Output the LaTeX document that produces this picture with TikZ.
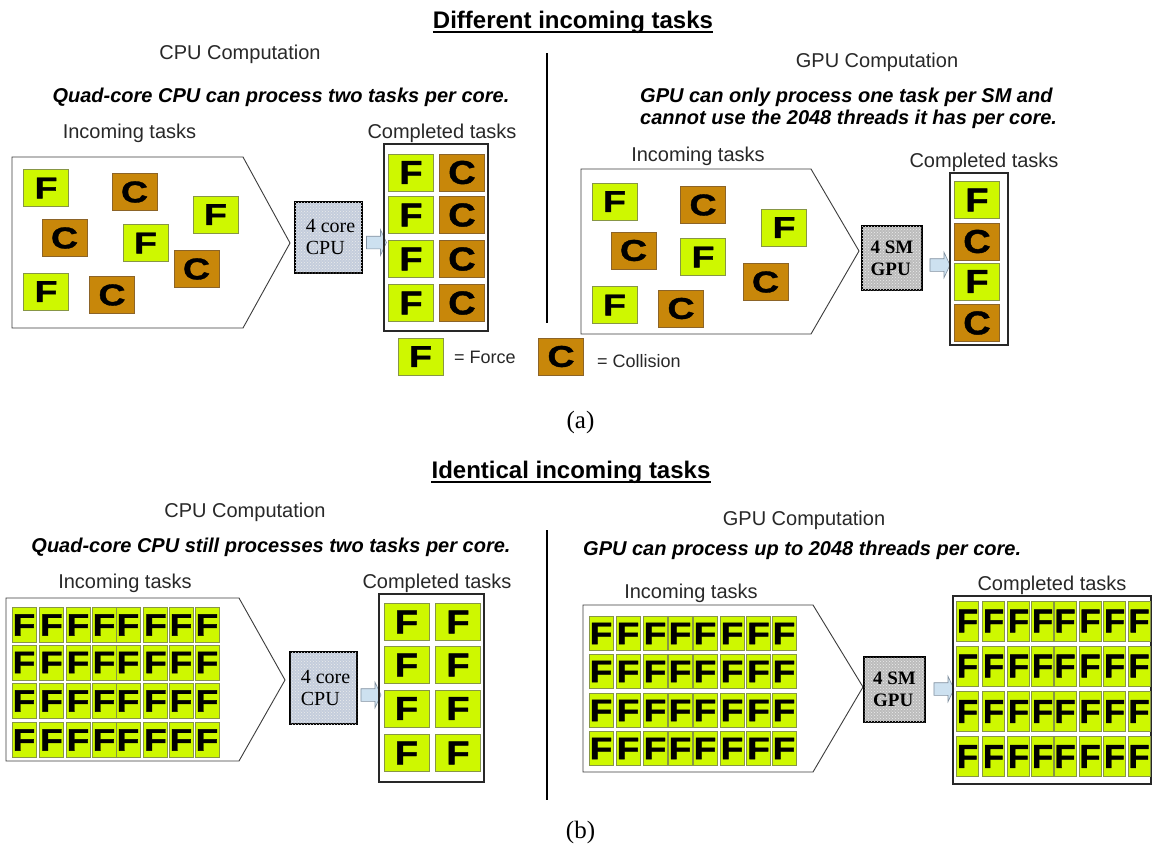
\documentclass[tikz,border=0pt]{standalone}
\usepackage{fontspec}
\setmainfont{Liberation Serif}
\setsansfont{Liberation Sans}
\newfontfamily\tilefont{Liberation Sans}[BoldFeatures={FakeBold=1.2}]
\usepackage{graphicx}
\usetikzlibrary{shapes.arrows,patterns}
\definecolor{fcol}{RGB}{206,248,0}
\definecolor{fbord}{RGB}{135,150,70}
\definecolor{ccol}{RGB}{200,135,10}
\definecolor{cbord}{RGB}{140,100,40}
\definecolor{cpufill}{RGB}{196,205,220}
\definecolor{gpufill}{RGB}{188,188,188}
\definecolor{arrowfill}{RGB}{205,225,240}
\definecolor{arrowdraw}{RGB}{130,145,160}
\definecolor{pentcol}{RGB}{60,60,60}
\definecolor{boxcol}{RGB}{40,40,40}
\definecolor{txt}{RGB}{40,40,40}
\newcommand{\tlF}[1][1.25]{\scalebox{#1}[1]{F}}
\newcommand{\tlC}[1][1.25]{\scalebox{#1}[1]{C}}
\begin{document}
\begin{tikzpicture}[x=1pt,y=-1pt,
  lab/.style={font=\sffamily\fontsize{20}{24}\selectfont, text=txt, inner sep=0pt, anchor=base},
  leg/.style={font=\sffamily\fontsize{18}{22}\selectfont, text=txt, inner sep=0pt, anchor=base west},
  bi/.style={font=\sffamily\bfseries\itshape\fontsize{20}{24}\selectfont, inner sep=0pt, anchor=base},
  ttl/.style={font=\sffamily\bfseries\fontsize{24}{28}\selectfont, inner sep=0pt, anchor=base},
  capt/.style={font=\fontsize{25}{28}\selectfont, inner sep=0pt, anchor=base},
  tile/.style={draw=fbord, fill=fcol, line width=0.7pt, inner sep=0pt, minimum width=45pt, minimum height=37pt, font=\tilefont\bfseries\fontsize{30}{30}\selectfont},
  ft/.style={tile},
  ct/.style={tile, fill=ccol, draw=cbord},
  dft/.style={tile, font=\tilefont\bfseries\fontsize{33}{33}\selectfont},
  dct/.style={ct, font=\tilefont\bfseries\fontsize{33}{33}\selectfont},
  gt/.style={tile, minimum width=24pt, minimum height=35pt, font=\tilefont\bfseries\fontsize{31}{31}\selectfont},
  proc/.style={draw=black, line width=2.5pt, inner sep=0pt, align=left, font=\fontsize{20}{22}\selectfont,
    postaction={pattern=crosshatch dots, pattern color=white!85!gray}},
  cpu/.style={proc, fill=cpufill, minimum width=67pt, minimum height=71pt},
  gpu/.style={proc, fill=gpufill, minimum width=60pt, minimum height=64pt, font=\bfseries\fontsize{19}{22}\selectfont},
  barrow/.style={single arrow, draw=arrowdraw, fill=arrowfill, line width=0.6pt, inner sep=0pt, minimum height=20pt, single arrow head extend=6.5pt, single arrow tip angle=130},
  pent/.style={draw=pentcol, line width=0.9pt},
  done/.style={draw=boxcol, line width=1.3pt, inner sep=0pt},
  divider/.style={line width=2pt, black}]
\useasboundingbox[fill=white] (0,0) rectangle (1153,852);

% ================= (a) =================
\node[ttl] (titleA) at (573,28) {Different incoming tasks};
\draw[line width=1.5pt] ([yshift=-4pt]titleA.base west) -- ([yshift=-4pt]titleA.base east);

\node[lab] (cpuA) at (240,59) {CPU Computation};
\node[bi] (cpuAd) at (281,102) {Quad-core CPU can process two tasks per core.};
\node[lab] (inA) at (129.5,138) {Incoming tasks};
\node[lab] (doneAl) at (442,138) {Completed tasks};

\draw[pent] (12,157) -- (243,157) -- (290,243) -- (243,328) -- (12,328) -- cycle;
\node[ft] (a1) at (46,188) {\tlF};
\node[ct] (a2) at (134.5,192) {\tlC};
\node[ft] (a3) at (215.5,214.5) {\tlF};
\node[ct] (a4) at (64.5,238) {\tlC};
\node[ft] (a5) at (145.5,243) {\tlF};
\node[ct] (a6) at (196.5,269) {\tlC};
\node[ft] (a7) at (46,291.5) {\tlF};
\node[ct] (a8) at (112,295) {\tlC};

\node[cpu] (cpuboxA) at (328.5,237.5) {\hspace*{4pt}4 core\\\hspace*{4pt}CPU};
\node[barrow] (arrA) at (375,242.5) {\rule{0pt}{12pt}};
\node[done, minimum width=104pt, minimum height=187pt] (doneA) at (436,237.5) {};
\foreach \y [count=\j] in {172.5,215,259,303}{
  \node[dft] (dA-f\j) at (411,\y) {\tlF[1.15]};
  \node[dct] (dA-c\j) at (462,\y) {\tlC[1.15]};
}

\draw[divider] (547,53) -- (547,323);

\node[lab] (gpuA) at (877,67) {GPU Computation};
\node[bi, anchor=base west] (gpuAd1) at (640,102) {GPU can only process one task per SM and};
\node[bi, anchor=base west] (gpuAd2) at (640,124) {cannot use the 2048 threads it has per core.};
\node[lab] (inB) at (698,161) {Incoming tasks};
\node[lab] (doneBl) at (984,167) {Completed tasks};

\draw[pent] (581,169) -- (811,169) -- (859,251) -- (811,334) -- (581,334) -- cycle;
\node[ft] (b1) at (614.5,201.5) {\tlF};
\node[ct] (b2) at (703,205) {\tlC};
\node[ft] (b3) at (784,227.5) {\tlF};
\node[ct] (b4) at (633.5,250.5) {\tlC};
\node[ft] (b5) at (703,257) {\tlF};
\node[ct] (b6) at (765.5,282) {\tlC};
\node[ft] (b7) at (614.5,305) {\tlF};
\node[ct] (b8) at (681,308.5) {\tlC};

\node[gpu] (gpuboxA) at (892,258) {4 SM\\GPU};
\node[barrow] (arrB) at (938.5,265) {\rule{0pt}{12pt}};
\node[done, minimum width=58pt, minimum height=172pt] (doneB) at (979,259) {};
\node[dft] (dB1) at (977,200) {\tlF[1.15]};
\node[dct] (dB2) at (977,241.5) {\tlC[1.15]};
\node[dft] (dB3) at (977,281.5) {\tlF[1.15]};
\node[dct] (dB4) at (977,323) {\tlC[1.15]};

% legend
\node[ft] (legF) at (420.5,356.5) {\tlF};
\node[leg] (legFt) at (454,363) {= Force};
\node[ct] (legC) at (561,356.5) {\tlC};
\node[leg] (legCt) at (597,367) {= Collision};

\node[capt] (capA) at (580.5,428) {(a)};

% ================= (b) =================
\node[ttl] (titleB) at (571,478) {Identical incoming tasks};
\draw[line width=1.5pt] ([yshift=-4pt]titleB.base west) -- ([yshift=-4pt]titleB.base east);

\node[lab] (cpuB) at (245,517) {CPU Computation};
\node[bi] (cpuBd) at (271,552) {Quad-core CPU still processes two tasks per core.};
\node[lab] (inC) at (125,588) {Incoming tasks};
\node[lab] (doneCl) at (437,588) {Completed tasks};

\draw[pent] (6,598) -- (239,598) -- (285,680) -- (239,761) -- (6,761) -- cycle;
\foreach \x [count=\i] in {24,51.5,78,104,128,155.5,181,207}{
  \foreach \y [count=\j] in {625,662.5,701,740}{
    \node[gt] (gC-\i-\j) at (\x,\y) {\tlF[1.2]};
  }
}
\node[cpu, minimum height=72pt] (cpuboxB) at (323.5,688) {\hspace*{4pt}4 core\\\hspace*{4pt}CPU};
\node[barrow] (arrC) at (369.5,695) {\rule{0pt}{12pt}};
\node[done, minimum width=105pt, minimum height=188pt] (doneC) at (431.5,688) {};
\foreach \y [count=\j] in {622,665,708.5,753}{
  \node[dft] (dC-a\j) at (406.5,\y) {\tlF[1.15]};
  \node[dft] (dC-b\j) at (458,\y) {\tlF[1.15]};
}

\draw[divider] (547,530) -- (547,800);

\node[lab] (gpuB) at (804,525) {GPU Computation};
\node[bi, anchor=base west] (gpuBd) at (583,555) {GPU can process up to 2048 threads per core.};
\node[lab] (inD) at (691,598) {Incoming tasks};
\node[lab] (doneDl) at (1052,590) {Completed tasks};

\draw[pent] (583,605) -- (813,605) -- (863,687) -- (813,772) -- (583,772) -- cycle;
\foreach \x [count=\i] in {601,628,655,680,705,732,758.5,784}{
  \foreach \y [count=\j] in {633.5,671.5,710.5,748.5}{
    \node[gt, minimum height=34pt] (gD-\i-\j) at (\x,\y) {\tlF[1.2]};
  }
}
\node[gpu, minimum width=61pt, minimum height=65pt] (gpuboxB) at (894.5,689.5) {4 SM\\GPU};
\node[barrow] (arrD) at (942.5,689) {\rule{0pt}{12pt}};
\node[done, minimum width=198pt, minimum height=188pt] (doneD) at (1052,690) {};
\foreach \x [count=\i] in {967.5,993.5,1018.5,1042.5,1065,1090,1114.5,1139}{
  \foreach \y [count=\j] in {621,666,711.5,756.5}{
    \node[gt, minimum width=22pt, minimum height=40pt, font=\tilefont\bfseries\fontsize{33}{33}\selectfont] (dD-\i-\j) at (\x,\y) {\tlF[1.05]};
  }
}

\node[capt] (capB) at (580.5,838) {(b)};
\end{tikzpicture}
\end{document}
